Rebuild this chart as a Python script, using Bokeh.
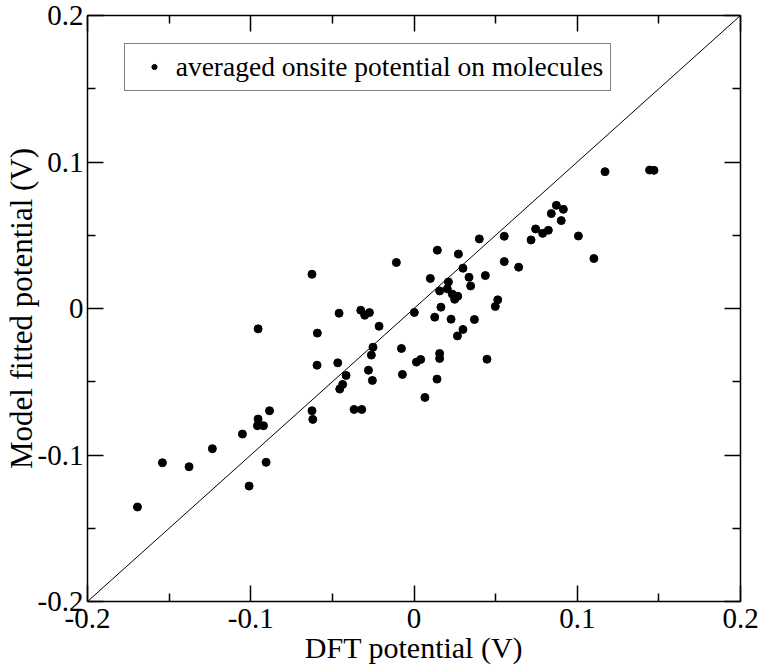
from bokeh.plotting import figure
from bokeh.models import Range1d, LinearAxis, FixedTicker, CustomJSTickFormatter
from bokeh.embed import file_html
from bokeh.resources import INLINE

# ---- data ----
dft_potential = [
    -0.0955, -0.0625, -0.0108, -0.0459, -0.0326, -0.0302, -0.0273, -0.0214, -0.0592, -0.0251,
    -0.0077, -0.0261, -0.0594, -0.0467, -0.0279, -0.0416, -0.0071, -0.0255, -0.0437, -0.0455,
    0.1170, 0.1443, 0.1470, 0.0872, 0.0915, 0.0841, 0.0902, 0.0745, 0.0788, 0.0823,
    0.0717, 0.1007, 0.1102, 0.0553, 0.0400, 0.0143, 0.0272, 0.0553, 0.0641, 0.0300,
    0.0100, 0.0337, 0.0437, 0.0211, 0.0347, 0.0157, 0.0204, 0.0235, 0.0268, 0.0249,
    0.0165, 0.0002, 0.0513, 0.0498, 0.0127, 0.0227, 0.0370, 0.0300, 0.0266, 0.0015,
    0.0041, 0.0157, 0.0157, 0.0447, 0.0141, 0.0067,
    -0.1694, -0.1541, -0.1378, -0.1235, -0.1051, -0.1010, -0.0955, -0.0959, -0.0922, -0.0885,
    -0.0906, -0.0625, -0.0620, -0.0367, -0.0320,
]
model_potential = [
    -0.0139, 0.0234, 0.0314, -0.0032, -0.0012, -0.0046, -0.0028, -0.0121, -0.0168, -0.0264,
    -0.0273, -0.0318, -0.0387, -0.0371, -0.0421, -0.0457, -0.0450, -0.0491, -0.0518, -0.0550,
    0.0934, 0.0945, 0.0943, 0.0704, 0.0677, 0.0648, 0.0600, 0.0543, 0.0513, 0.0534,
    0.0468, 0.0495, 0.0341, 0.0493, 0.0475, 0.0398, 0.0372, 0.0320, 0.0282, 0.0275,
    0.0205, 0.0213, 0.0225, 0.0181, 0.0154, 0.0120, 0.0134, 0.0098, 0.0084, 0.0063,
    0.0009, -0.0027, 0.0059, 0.0014, -0.0059, -0.0073, -0.0075, -0.0143, -0.0187, -0.0366,
    -0.0348, -0.0307, -0.0341, -0.0346, -0.0482, -0.0607,
    -0.1355, -0.1053, -0.1080, -0.0957, -0.0857, -0.1212, -0.0755, -0.0800, -0.0800, -0.0698,
    -0.1050, -0.0698, -0.0757, -0.0689, -0.0689,
]
diagonal = [-0.2, 0.2]
major_ticks = [-0.2, -0.1, 0.0, 0.1, 0.2]
minor_ticks = [-0.15, -0.05, 0.05, 0.15]
x_label = "DFT potential (V)"
y_label = "Model fitted potential (V)"
legend_text = "averaged onsite potential on molecules"

FONT = "Liberation Serif"

p = figure(width=762, height=666, output_backend="svg", toolbar_location=None,
           x_range=Range1d(diagonal[0], diagonal[1]), y_range=Range1d(diagonal[0], diagonal[1]),
           min_border_left=86, min_border_right=22, min_border_top=15, min_border_bottom=64,
           x_axis_label=x_label, y_axis_label=y_label)
p.grid.visible = False
p.outline_line_color = None
p.background_fill_color = "white"
p.border_fill_color = "white"

p.line(diagonal, diagonal, line_color="black", line_width=1)
p.scatter(dft_potential, model_potential, size=8, color="black", legend_label=legend_text)

fmt = CustomJSTickFormatter(code="return tick == 0 ? '0' : tick.toFixed(1);")
blank = CustomJSTickFormatter(code="return '';")


def style_axis(ax, labels=True):
    ax.ticker = FixedTicker(ticks=major_ticks, minor_ticks=minor_ticks)
    ax.axis_line_color = "black"
    ax.axis_line_width = 1.5
    ax.major_tick_line_color = "black"
    ax.major_tick_line_width = 1.5
    ax.minor_tick_line_color = "black"
    ax.minor_tick_line_width = 1.5
    ax.major_tick_in = 16
    ax.major_tick_out = 0
    ax.minor_tick_in = 8
    ax.minor_tick_out = 0
    if labels:
        ax.formatter = fmt
        ax.major_label_text_font = FONT
        ax.major_label_text_font_size = "29px"
        ax.major_label_text_color = "black"
        ax.axis_label_text_font = FONT
        ax.axis_label_text_font_size = "30px"
        ax.axis_label_text_font_style = "normal"
        ax.axis_label_text_color = "black"
    else:
        ax.formatter = blank
        ax.major_label_standoff = 0


style_axis(p.xaxis[0])
style_axis(p.yaxis[0])
p.yaxis[0].axis_label_text_font_size = "31px"
p.xaxis[0].major_label_standoff = 7
p.xaxis[0].axis_label_standoff = 0
p.yaxis[0].major_label_standoff = 4
p.yaxis[0].axis_label_standoff = -4

top_axis = LinearAxis()
right_axis = LinearAxis()
style_axis(top_axis, labels=False)
style_axis(right_axis, labels=False)
p.add_layout(top_axis, "above")
p.add_layout(right_axis, "right")

lg = p.legend[0]
lg.location = (36.7, 510.3)
lg.margin = 0
lg.padding = 7
lg.glyph_width = 44
lg.glyph_height = 13
lg.label_standoff = 0
lg.label_text_font = FONT
lg.label_text_font_size = "27.5px"
lg.label_text_color = "black"
lg.border_line_color = "black"
lg.border_line_width = 1.5
lg.background_fill_color = "white"
lg.background_fill_alpha = 1.0

open("out.html", "w").write(file_html(p, INLINE))
